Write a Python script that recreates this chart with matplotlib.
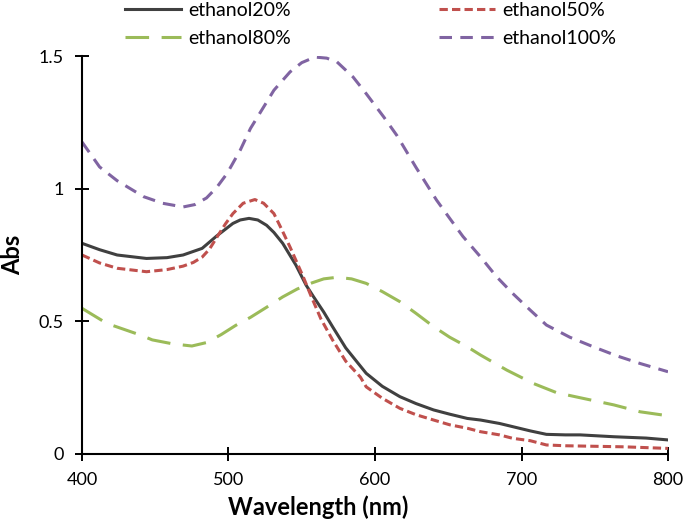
import matplotlib
matplotlib.use("Agg")
import matplotlib.pyplot as plt
import matplotlib.ticker as ticker

plt.rcParams['font.family'] = ['Lato', 'DejaVu Sans']
plt.rcParams['lines.scale_dashes'] = False

# Данные
w20 = [400, 412, 424, 444, 458, 469, 482, 492, 503, 508, 514, 520, 526, 531, 537, 546, 553,
       558, 565, 571, 580, 588, 594, 605, 617, 628, 640, 651, 663, 672, 685, 694, 706, 717,
       730, 740, 763, 785, 800]
a20 = [0.794, 0.770, 0.750, 0.737, 0.740, 0.750, 0.775, 0.822, 0.869, 0.882, 0.888, 0.882,
       0.862, 0.835, 0.794, 0.712, 0.636, 0.593, 0.535, 0.480, 0.400, 0.345, 0.304, 0.255,
       0.216, 0.190, 0.166, 0.150, 0.134, 0.128, 0.115, 0.103, 0.087, 0.074, 0.072, 0.072,
       0.065, 0.060, 0.053]

w50 = [400, 412, 424, 444, 458, 469, 476, 482, 487, 493, 498, 503, 510, 518, 524, 531, 536,
       542, 551, 556, 563, 571, 580, 590, 594, 605, 617, 628, 640, 651, 663, 672, 685, 694,
       706, 717, 730, 740, 770, 800]
a50 = [0.750, 0.720, 0.700, 0.687, 0.695, 0.708, 0.722, 0.742, 0.772, 0.825, 0.868, 0.906,
       0.945, 0.959, 0.945, 0.906, 0.850, 0.780, 0.668, 0.600, 0.510, 0.430, 0.350, 0.290,
       0.253, 0.210, 0.172, 0.148, 0.128, 0.110, 0.097, 0.084, 0.072, 0.059, 0.050, 0.034,
       0.031, 0.030, 0.027, 0.021]

w80 = [400, 417, 440, 448, 462, 475, 485, 495, 505, 515, 526, 537, 547, 557, 565, 574, 584,
       594, 605, 617, 628, 640, 651, 663, 672, 690, 708, 724, 740, 763, 781, 800]
a80 = [0.549, 0.492, 0.448, 0.430, 0.415, 0.407, 0.420, 0.450, 0.485, 0.515, 0.553, 0.592,
       0.622, 0.645, 0.660, 0.666, 0.660, 0.643, 0.612, 0.574, 0.530, 0.480, 0.440, 0.404,
       0.373, 0.316, 0.266, 0.231, 0.212, 0.185, 0.159, 0.144]

w100 = [400, 412, 424, 442, 455, 469, 477, 485, 492, 499, 508, 515, 524, 531, 542, 550, 559,
        567, 574, 585, 594, 606, 615, 628, 642, 651, 660, 672, 683, 694, 706, 717, 733, 749,
        765, 781, 800]
a100 = [1.176, 1.082, 1.030, 0.970, 0.945, 0.931, 0.940, 0.965, 1.005, 1.057, 1.145, 1.227,
        1.308, 1.371, 1.440, 1.475, 1.496, 1.492, 1.478, 1.421, 1.358, 1.270, 1.200, 1.080,
        0.957, 0.888, 0.820, 0.743, 0.668, 0.605, 0.542, 0.486, 0.440, 0.404, 0.370, 0.341,
        0.310]

labels = ['ethanol20%', 'ethanol50%', 'ethanol80%', 'ethanol100%']

fig = plt.figure(figsize=(6.85, 5.22), dpi=100)
ax = fig.add_axes([0.1197, 0.1303, 0.8555, 0.7624])

l20, = ax.plot(w20, a20, color='#404040', lw=2.2)
l50, = ax.plot(w50, a50, color='#c0504d', lw=2.2, dashes=(6, 3))
l80, = ax.plot(w80, a80, color='#9bbb59', lw=2.2, dashes=(17, 9))
l100, = ax.plot(w100, a100, color='#8064a2', lw=2.2, dashes=(9, 6))

ax.set(xlim=(400, 800), ylim=(0, 1.5))
ax.xaxis.set_major_locator(ticker.MultipleLocator(100))
ax.set_yticks([0, 0.5, 1, 1.5])
ax.set_yticklabels(['0', '0.5', '1', '1.5'])
ax.tick_params(direction='inout', length=10, width=1.4, labelsize=13, pad=8)
for s in ['top', 'right']:
    ax.spines[s].set_visible(False)
for s in ['left', 'bottom']:
    ax.spines[s].set_linewidth(1.5)

ax.set_xlabel('Wavelength (nm)', fontsize=17, fontweight='bold')
ax.xaxis.set_label_coords(0.403, -0.105)
ax.set_ylabel('Abs', fontsize=17, fontweight='bold')
ax.yaxis.set_label_coords(-0.098, 0.5)

fig.legend([l20, l80, l50, l100], [labels[0], labels[2], labels[1], labels[3]],
           ncol=2, frameon=False, fontsize=14, handlelength=2.9, columnspacing=7.6,
           handletextpad=0.35, labelspacing=0.55, borderpad=0, borderaxespad=0,
           loc='upper left', bbox_to_anchor=(125 / 685, 1 - 2 / 522))

fig.savefig('out.png', dpi=100)
